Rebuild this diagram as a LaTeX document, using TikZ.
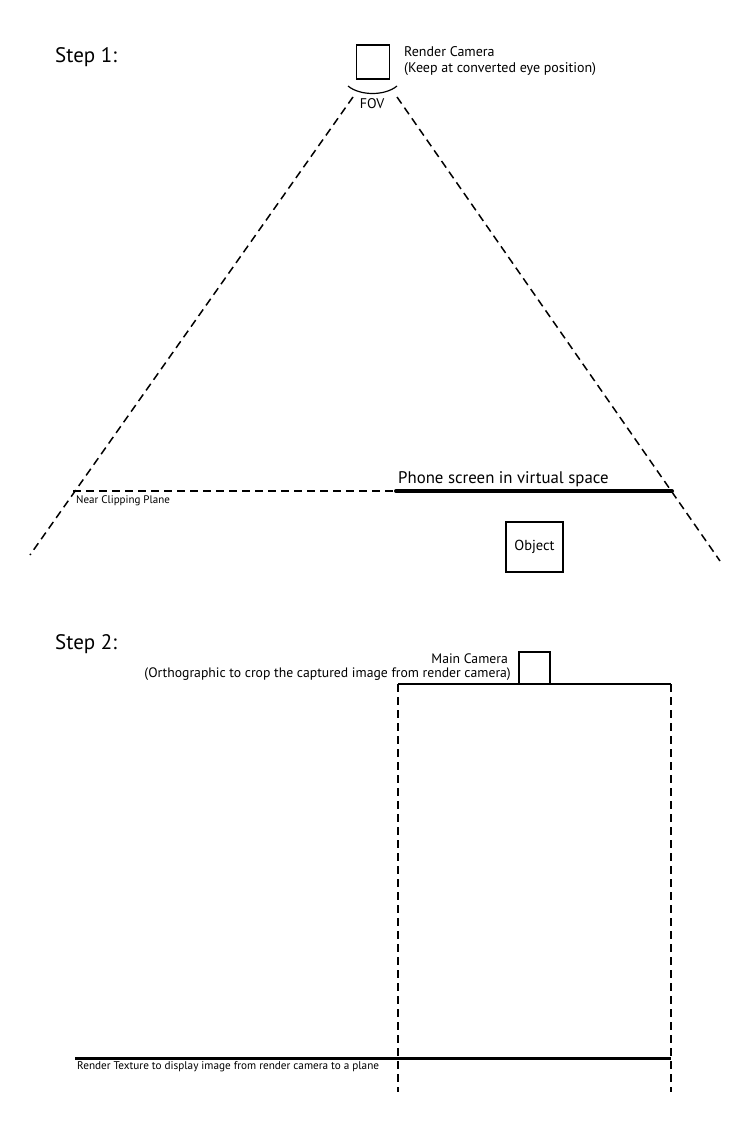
\documentclass[tikz,border=0pt]{standalone}
\usepackage{fontspec}
\setmainfont{PT Sans}
\begin{document}
\begin{tikzpicture}[x=1pt,y=-1pt,
  line/.style={line width=1.4pt},
  dashline/.style={line width=1.5pt, dash pattern=on 8pt off 5pt},
  boxnode/.style={draw, line width=1.4pt, inner sep=0pt},
  lbl/.style={inner sep=0pt}]
\useasboundingbox (0,0) rectangle (750,1137);

% ---------- Step 1 ----------
\node[lbl, anchor=base west, font=\fontsize{21}{24}\selectfont] (s1) at (55,63) {Step 1:};

\node[boxnode, minimum width=33pt, minimum height=34pt] (rcam) at (373,62) {};
\node[lbl, anchor=base west, font=\fontsize{14}{16}\selectfont] (rcamA) at (404,57) {Render Camera};
\node[lbl, anchor=base west, font=\fontsize{14}{16}\selectfont] (rcamB) at (404,73) {(Keep at converted eye position)};

% field of view arc
\coordinate (fovL) at (348,86);
\coordinate (fovR) at (397,86);
\draw[line width=1.2pt] (fovL) .. controls (360,96) and (385,96) .. (fovR);
\node[lbl, anchor=base, font=\fontsize{14}{16}\selectfont] (fov) at (372,109) {FOV};

% frustum edges
\coordinate (lt) at (353,97);
\coordinate (lb) at (30,555);
\coordinate (rt) at (397,97);
\coordinate (rb) at (720,561);
\draw[dashline] (lt) -- (lb);
\draw[dashline] (rt) -- (rb);

% near clipping plane and phone screen
\coordinate (ncL) at (73,491);
\coordinate (psL) at (396,491);
\coordinate (psR) at (672,491);
\draw[dashline] (ncL) -- (psL);
\draw[line width=4pt, line cap=round] (psL) -- (psR);
\node[lbl, anchor=base west, font=\fontsize{11}{13}\selectfont] (nc) at (76,503) {Near Clipping Plane};
\node[lbl, anchor=base west, font=\fontsize{16.8}{19}\selectfont] (ps) at (398,483) {Phone screen in virtual space};

\node[boxnode, minimum width=57pt, minimum height=50pt, font=\fontsize{14.5}{17}\selectfont] (obj) at (534.5,547) {Object};

% ---------- Step 2 ----------
\node[lbl, anchor=base west, font=\fontsize{21}{24}\selectfont] (s2) at (55,649) {Step 2:};

\node[boxnode, minimum width=31pt, minimum height=32pt] (mcam) at (534.5,668) {};
\node[lbl, anchor=base east, font=\fontsize{13.7}{16}\selectfont] (mcamA) at (508,663) {Main Camera};
\node[lbl, anchor=base east, font=\fontsize{13.7}{16}\selectfont] (mcamB) at (511,677) {(Orthographic to crop the captured image from render camera)};

\coordinate (tl) at (398,684);
\coordinate (tr) at (671,684);
\coordinate (bl) at (398,1092);
\coordinate (br) at (671,1092);
\draw[line] (tl) -- (tr);
\draw[dashline] (tl) -- (bl);
\draw[dashline] (tr) -- (br);

\coordinate (rtL) at (75,1058);
\coordinate (rtR) at (671,1058);
\draw[line width=3pt] (rtL) -- (rtR);
\node[lbl, anchor=base west, font=\fontsize{11.2}{13}\selectfont] (rt) at (77,1069) {Render Texture to display image from render camera to a plane};
\end{tikzpicture}
\end{document}
